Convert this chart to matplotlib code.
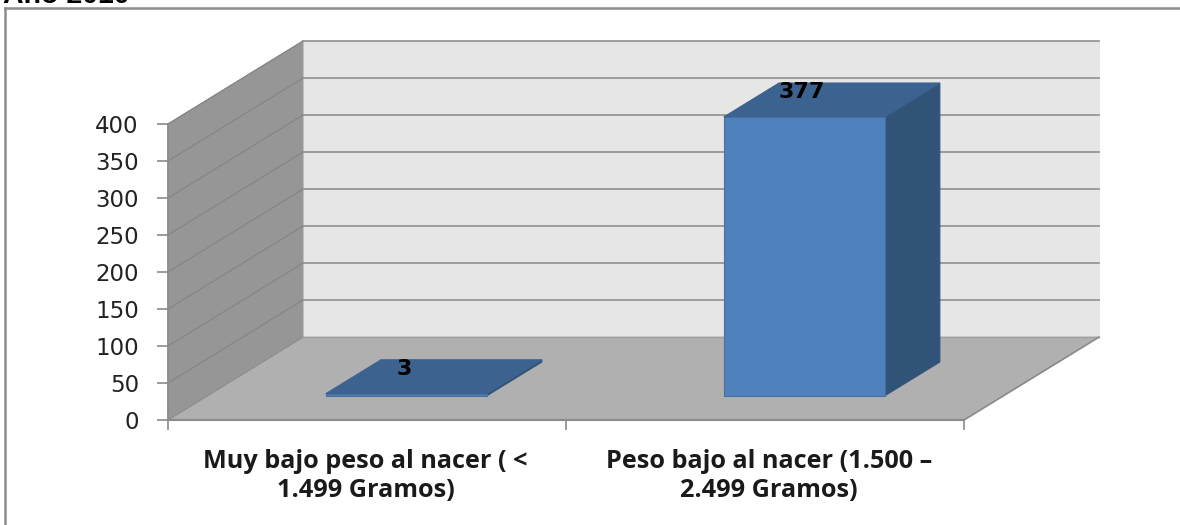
import numpy as np
from matplotlib import pyplot as plt
from matplotlib.lines import Line2D
from matplotlib.patches import Polygon

categories = ['Muy bajo peso al nacer ( <\n1.499 Gramos)',
              'Peso bajo al nacer (1.500 –\n2.499 Gramos)']
values = [3, 377]
y_ticks = [0, 50, 100, 150, 200, 250, 300, 350, 400]

# fake 3d: how far one unit of depth moves a point, in data units
DEPTH_X = 0.339
DEPTH_Y = 112.0
BAR_WIDTH = 0.404
BAR_START = 0.29
BAR_DEPTH = 0.41


def proj(x, y, d):
    return (x + d * DEPTH_X, y + d * DEPTH_Y)


def face(ax, pts, color, edge=None, z=1):
    ax.add_patch(Polygon(pts, closed=True, facecolor=color, edgecolor=edge or color,
                         linewidth=0.8, clip_on=False, zorder=z))


W, H = 1180, 525
fig = plt.figure(figsize=(W / 100, H / 100), dpi=100, facecolor='white')
ax = fig.add_axes([168 / W, (H - 420) / H, 796 / W, 296 / H])
n = len(categories)
ax.set_xlim(0, n)
ax.set_ylim(0, y_ticks[-1])
ax.patch.set_visible(False)
for s in ax.spines.values():
    s.set_visible(False)

top = y_ticks[-1]

# walls and floor
face(ax, [proj(0, 0, 1), proj(n, 0, 1), proj(n, top, 1), proj(0, top, 1)], '#e6e6e6')
face(ax, [proj(0, 0, 0), proj(0, 0, 1), proj(0, top, 1), proj(0, top, 0)], '#969696')
face(ax, [proj(0, 0, 0), proj(n, 0, 0), proj(n, 0, 1), proj(0, 0, 1)], '#b0b0b0')

# gridlines go along the left wall and then the back wall
for t in y_ticks:
    if t == 0:
        continue
    p0, p1, p2 = proj(0, t, 0), proj(0, t, 1), proj(n, t, 1)
    ax.plot([p0[0], p1[0]], [p0[1], p1[1]], color='#858585', lw=0.9, clip_on=False, zorder=2)
    ax.plot([p1[0], p2[0]], [p1[1], p2[1]], color='#8f8f8f', lw=1.2, clip_on=False, zorder=2)
p0, p1, p2, p3 = proj(0, 0, 0), proj(0, 0, 1), proj(n, 0, 1), proj(n, 0, 0)
ax.plot([p0[0], p1[0]], [p0[1], p1[1]], color='#8a8a8a', lw=0.9, clip_on=False, zorder=2)
ax.plot([p1[0], p2[0]], [p1[1], p2[1]], color='#a0a0a0', lw=0.9, clip_on=False, zorder=2)
ax.plot([p2[0], p3[0]], [p2[1], p3[1]], color='#8a8a8a', lw=1.2, clip_on=False, zorder=2)
ax.plot([p0[0], p3[0]], [p0[1], p3[1]], color='#8a8a8a', lw=1.5, clip_on=False, zorder=2)
ax.plot([0, 0], [0, top], color='#8a8a8a', lw=1.2, clip_on=False, zorder=2)

# bars
for i, v in enumerate(values):
    x0 = i + 0.5 - BAR_WIDTH / 2
    x1 = i + 0.5 + BAR_WIDTH / 2
    d0, d1 = BAR_START, BAR_START + BAR_DEPTH
    face(ax, [proj(x1, 0, d0), proj(x1, 0, d1), proj(x1, v, d1), proj(x1, v, d0)], '#325378', z=3)
    face(ax, [proj(x0, v, d0), proj(x1, v, d0), proj(x1, v, d1), proj(x0, v, d1)], '#3c6290', z=3)
    face(ax, [proj(x0, 0, d0), proj(x1, 0, d0), proj(x1, v, d0), proj(x0, v, d0)], '#4f81bd',
         edge='#456f9f', z=3)
    cx, cy = proj(i + 0.5, v, d0)
    ax.annotate(str(v), (cx, cy), xytext=(-1.5, 18), textcoords='offset points',
                ha='center', va='center', fontsize=16, fontweight='bold', color='black',
                family='DejaVu Sans', zorder=5, annotation_clip=False)

ax.set_yticks(y_ticks)
ax.set_xticks(np.arange(n + 1))
ax.set_xticklabels([])
ax.tick_params(axis='y', length=8, width=1.2, color='#8a8a8a', pad=13, labelsize=16.5,
               labelcolor='#222222')
ax.tick_params(axis='x', length=7, width=1.2, color='#8a8a8a')

for i, c in enumerate(categories):
    ax.annotate(c, (i + 0.5, 0), xytext=(-1 + 4 * i, -21), textcoords='offset points',
                ha='center', va='top', fontsize=18.2, fontweight='bold', color='#1a1a1a',
                family='Open Sans', linespacing=1.22, annotation_clip=False)

# outer frame and the cut off heading above it
fig.add_artist(Line2D([5 / W, 5 / W], [0, 1 - 8 / H], color='#8c8c8c', lw=1.8))
fig.add_artist(Line2D([5 / W, 1], [1 - 8 / H, 1 - 8 / H], color='#8c8c8c', lw=1.8))
fig.text(3 / W, 1 - 3 / H, 'Año 2010', ha='left', va='baseline', fontsize=20.5, fontweight='bold',
         family='Liberation Sans', color='black')

fig.savefig('out.png', dpi=100)
